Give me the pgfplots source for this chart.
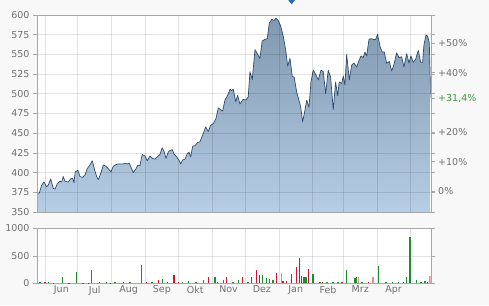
\documentclass[border=0pt]{standalone}
\usepackage{pgfplots}
\pgfplotsset{compat=1.18}
\usepackage{pgfplotstable}
\usepackage{fontspec}
\setmainfont{DejaVu Sans}
\definecolor{bgc}{HTML}{F8F8F8}
\definecolor{txt}{HTML}{707070}
\definecolor{axc}{HTML}{A8A8A8}
\definecolor{linec}{HTML}{2E4D6E}
\definecolor{topc}{HTML}{8099B1}
\definecolor{botc}{HTML}{B5CEE5}
\definecolor{vgreen}{HTML}{1E8C2E}
\definecolor{vred}{HTML}{CC1530}
\definecolor{vpink}{HTML}{E68A9A}
\definecolor{pctgreen}{HTML}{3A9A3A}
\definecolor{diam}{HTML}{2A6DB5}

\pgfplotstableread{
x y
-7.3 374
-5.2 374
-3.0 384
-0.9 388
1.5 382
3.0 384
5.2 392
7.6 380
9.2 379
11.3 386
13.7 389
15.3 388
16.7 395
18.3 389
21.3 388
23.5 392
25.3 393
26.5 387
27.7 401
30.2 403
32.0 395
34.5 394
36.6 397
38.7 405
41.2 410
43.3 415
45.1 405
47.3 395
48.8 391
51.0 399
53.4 409.6
55.8 408
57.9 405
60.4 401
62.5 408
64.7 410
67.1 411
69.5 411
71.7 411
73.2 412
75.3 411
77.1 412
79.3 405
80.8 400
83.3 405
84.8 409
86.9 409
89.0 423
91.5 421
93.6 415
96.1 421
98.5 418
100.7 417
102.8 420
105.2 423
107.3 431.6
109.2 426
110.7 418
112.8 426
114.4 428
116.5 429
118.3 423
120.5 420
122.6 416
124.2 411
126.0 416
128.1 417
130.2 424
131.8 426
133.3 420
135.2 433.7
137.3 434
139.4 438
141.8 439
144.3 447.7
147.1 458
149.4 452
151.6 460
154.0 462
156.5 468.8
158.6 482
160.8 480
162.6 478
164.7 492
166.8 497
169.3 505.7
170.8 504
172.3 506
174.5 490
176.3 498
178.4 487
181.4 493
183.9 492
186.0 496
187.6 528
189.7 518
192.2 556
194.3 551
196.7 545
198.8 567
201.3 569
203.4 570
205.3 589.5
207.5 594.5
209.6 593
211.4 596
213.5 593
215.7 586
218.1 572.5
220.3 555.6
222.1 535
224.2 545
226.3 522
228.1 521
230.3 502.7
232.4 492
234.0 483.6
235.8 464.6
237.9 479
239.5 492
241.6 483
243.4 515
245.5 530
248.0 524
250.1 517.5
252.6 530
254.7 528
256.9 500
259.2 530
261.4 521
263.8 480
266.0 515
267.8 497.6
269.3 515
271.5 513
273.0 522.6
274.5 511
276.1 550
278.5 517.5
280.7 536.5
282.8 539
285.2 534
287.3 542
289.2 548
291.3 546
292.8 553
294.4 548
296.5 569
298.3 570
300.4 569
302.6 569
304.4 575.5
306.6 560
308.7 553
310.5 553
312.7 538.7
315.1 541
317.3 529
319.4 537
321.8 552
323.9 546
326.4 547
328.5 534
331.0 551
333.1 539
334.9 548
337.0 540
339.2 544
341.6 555
343.8 540
345.6 540
346.8 562
348.7 574.6
350.2 573
351.7 565
353.0 494.5
}\price

\pgfplotstableread{
x v
-4.6 20
3.1 20
8 12
16.2 109
22 12
29 200
35 10
42.7 242
50 15
56.4 30
64 20
71.7 20
78 25
88.5 333
98 20
107.4 80
112 15
126 15
131.2 50
138 20
144.9 60
155.6 120
158 15
163.2 60
172 20
176.9 60
186 25
198.9 150
202.9 90
205.3 80
208.9 60
237 120
238.8 120
245.5 165
251.6 30
258 25
263.8 30
268 20
276.1 242
283.7 100
285.2 120
290 20
305 315
312 20
318 25
323.3 30
331 120
334 848
340.1 60
344 20
347.7 40
}\volgreen

\pgfplotstableread{
x v
0 15
40 12
60 10
93 30
103.7 60
118 150
122 15
149.5 110
166.2 120
180.9 110
189.1 110
193.7 242
196.1 150
212 180
218 40
221.2 50
225.8 165
230.3 290
232.7 455
234.9 133
241 255
254 20
272 15
296 15
328 15
350 15
}\volred

\pgfplotstableread{
x v
216.6 180
286.7 120
300.4 110
352.3 140
}\volpink

\begin{document}
\begin{tikzpicture}
\fill[bgc] (0,0) rectangle (489pt,305pt);
\pgfplotsset{
  every axis/.append style={
    scale only axis,
    width=393.7pt,
    xmin=-7.3, xmax=353,
    axis line style={axc},
    tick style={axc, line width=0.6pt},
    tick align=outside,
    major tick length=4pt,
    ticklabel style={font=\fontsize{9.5}{11}\selectfont, text=txt},
    /pgf/number format/assume math mode=true,
    /pgf/number format/1000 sep={},
    grid style={black, opacity=0.11, line width=0.6pt},
  }
}
% main price axis
\begin{axis}[
  name=main,
  at={(37pt,93pt)}, anchor=south west,
  height=197pt,
  ymin=350, ymax=600,
  ytick={350,375,...,600},
  xtick={0,30,61,92,122,153,183,214,245,273,304,334},
  xticklabels=\empty,
  xtick style={draw=none},
  grid=major,
  axis on top,
  axis background/.style={fill=white},
]
\addplot[draw=none, top color=topc, bottom color=botc] table[x=x, y=y] {\price}
  -- (axis cs:353,350) -- (axis cs:-7.3,350) -- cycle;
\addplot[linec, line width=0.7pt, line join=round] table[x=x, y=y] {\price};
\end{axis}
% right percentage axis
\begin{axis}[
  at={(37pt,93pt)}, anchor=south west,
  height=197pt,
  ymin=350, ymax=600,
  axis y line*=right,
  axis x line=none,
  ytick={376.3,413.9,451.6,526.8,564.5},
  yticklabels={0\%,+10\%,+20\%,+40\%,+50\%},
  extra y ticks={494.5},
  extra y tick labels={+31{,}4\%},
  extra y tick style={yticklabel style={text=pctgreen}},
  clip=false,
]
\addplot[only marks, mark=diamond*, mark size=4pt, diam] coordinates {(225.7,619)};
\end{axis}
% volume axis
\begin{axis}[
  at={(37pt,21.7pt)}, anchor=south west,
  height=55pt,
  ymin=0, ymax=1000,
  ytick={0,500,1000},
  xtick={0,30,61,92,122,153,183,214,245,273,304,334},
  xticklabels=\empty,
  xtick style={draw=none},
  extra x ticks={15,45.5,76.5,107,137.5,168,198.5,229.5,259,288.5,319},
  extra x tick labels={Jun,Jul,Aug,Sep,Okt,Nov,Dez,Jan,Feb,Mrz,Apr},
  extra x tick style={grid=none, major tick length=0pt, xticklabel style={yshift=1pt}},
  grid=major,
  axis background/.style={fill=white},
]
\addplot[ycomb, vgreen, line width=1.5pt, mark=none] table[x=x, y=v] {\volgreen};
\addplot[ycomb, vred, line width=1.5pt, mark=none] table[x=x, y=v] {\volred};
\addplot[ycomb, vpink, line width=1.5pt, mark=none] table[x=x, y=v] {\volpink};
\end{axis}
\pgfresetboundingbox
\path[use as bounding box] (0,0) rectangle (489pt,305pt);
\end{tikzpicture}
\end{document}
